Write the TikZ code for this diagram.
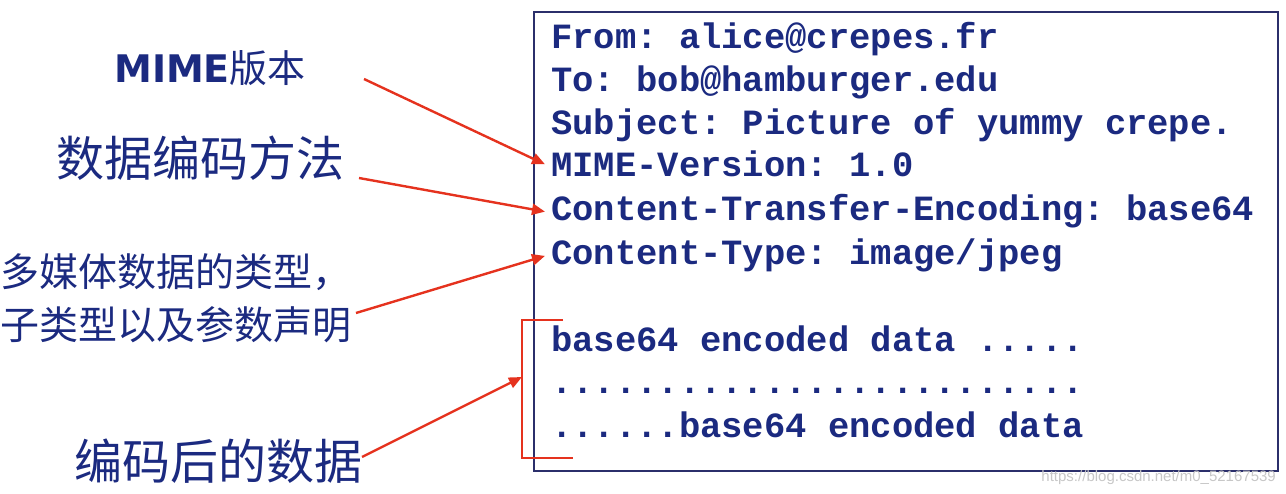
\documentclass[tikz,border=0pt]{standalone}
\usepackage{fontspec}
\setmainfont{Liberation Serif}
\setsansfont{Liberation Sans}
\setmonofont{Liberation Mono}
\newfontfamily\cjk{Noto Sans CJK SC}
\newfontfamily\mimesans{DejaVu Sans}
\usetikzlibrary{arrows.meta}
\definecolor{Ink}{HTML}{1B2A80}
\definecolor{Pointer}{HTML}{E5321E}
\definecolor{Frame}{HTML}{2B2F6B}
\newcommand{\mailline}[3]{%
  \node[mail] (#1) at (545,#2) {#3};
}

\begin{document}
\begin{tikzpicture}[x=1pt,y=-1pt,
  mail/.style={anchor=base west,inner xsep=6pt,inner ysep=0pt,text=Ink,
    font=\ttfamily\bfseries\fontsize{35.5}{40}\selectfont},
  note/.style={anchor=base west,inner sep=0pt,text=Ink},
  pointer/.style={draw=Pointer,line width=2.4pt},
  tip/.style={pointer,-{Triangle[length=13pt,width=11pt]}}]
\path[use as bounding box] (0,0) rectangle (1286,494);
% message
\draw[Frame,line width=1.8pt] (534,12) rectangle (1278,471);
\mailline{from}{49}{From: alice@crepes.fr}
\mailline{to}{92}{To: bob@hamburger.edu}
\mailline{subj}{135}{Subject: Picture of yummy crepe.}
\mailline{mver}{177}{MIME-Version: 1.0}
\mailline{cte}{221}{Content-Transfer-Encoding: base64}
\mailline{ctype}{265}{Content-Type: image/jpeg}
\mailline{dataA}{352}{base64 encoded data .....}
\mailline{dataB}{394}{.........................}
\mailline{dataC}{437}{......base64 encoded data}

% bracket round the data
\coordinate (brTop) at (563,320);
\coordinate (brMid) at (522,377);
\coordinate (brBot) at (573,458);
\draw[pointer] (brTop) -- (522,320) -- (522,458) -- (brBot);

% labels
\node[note,font=\cjk\fontsize{38}{42}\selectfont] (vlabel) at (114,83)
  {{\mimesans\bfseries MIME}版本};
\node[note,font=\cjk\fontsize{48}{52}\selectfont] (enclabel) at (56,177) {数据编码方法};
\node[note,font=\cjk\fontsize{39}{53}\selectfont,align=left] (typelabel) at (0,340)
  {多媒体数据的类型，\\子类型以及参数声明};
\node[note,font=\cjk\fontsize{48}{52}\selectfont] (datalabel) at (74,479) {编码后的数据};

\coordinate (vtail) at (364,79);
\coordinate (enctail) at (359,178);
\coordinate (typetail) at (356,313);
\coordinate (datatail) at (362,457);
\draw[tip] (vtail) -- (mver.west);
\draw[tip] (enctail) -- (cte.west);
\draw[tip] (typetail) -- (ctype.west);
\draw[tip] (datatail) -- (brMid);

\node[anchor=east,inner sep=0pt,text=black!22,font=\sffamily\fontsize{15}{16}\selectfont]
  (mark) at (1276,478) {https://blog.csdn.net/m0\_52167539};
\end{tikzpicture}
\end{document}
